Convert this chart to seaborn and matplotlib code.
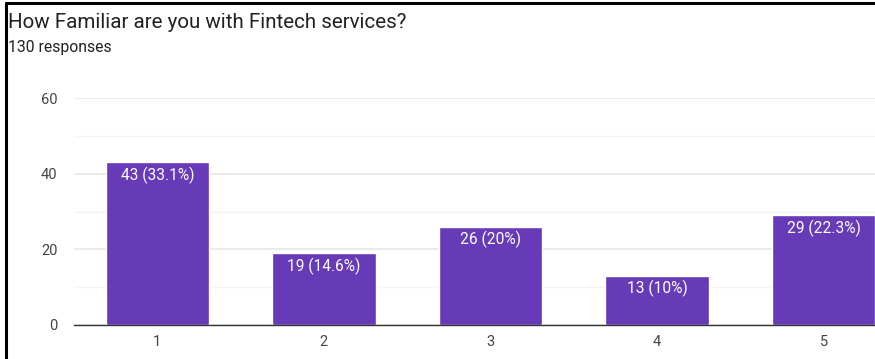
import matplotlib
matplotlib.use("Agg")
import matplotlib.pyplot as plt
from matplotlib.lines import Line2D
from matplotlib.ticker import MultipleLocator
import seaborn as sns
import pandas as pd

# Survey results
categories = ["1", "2", "3", "4", "5"]
counts = [43, 19, 26, 13, 29]
labels = ["43 (33.1%)", "19 (14.6%)", "26 (20%)", "13 (10%)", "29 (22.3%)"]
yticks = [0, 20, 40, 60]

title = "How Familiar are you with Fintech services?"
subtitle = "130 responses"

sns.set_theme(style="white")
plt.rcParams["font.family"] = ["Roboto", "DejaVu Sans"]

W, H = 875, 359
fig = plt.figure(figsize=(W / 100, H / 100), dpi=100)
fig.patch.set_facecolor("white")

# plot area in pixel units (the right end runs past the canvas edge)
left, right, top, bottom = 74, 907, 98, 325
ax = fig.add_axes([left / W, 1 - bottom / H, (right - left) / W, (bottom - top) / H])

df = pd.DataFrame({"rating": categories, "count": counts})
sns.barplot(data=df, x="rating", y="count", color="#673ab7", saturation=1,
            width=0.62, ax=ax, zorder=3)

for patch, txt in zip(ax.patches, labels):
    x = patch.get_x() + patch.get_width() / 2
    ax.annotate(txt, (x, patch.get_height()), xytext=(0, -3),
                textcoords="offset points", ha="center", va="top",
                color="white", fontsize=11.2, zorder=4)

ax.set_xlim(-0.5, len(categories) - 0.5)
ax.set_ylim(0, 60)
ax.set_yticks(yticks)
ax.yaxis.set_minor_locator(MultipleLocator(10))
ax.grid(True, axis="y", which="major", color="#e8e8e8", linewidth=1.2, zorder=0)
ax.grid(True, axis="y", which="minor", color="#f4f4f4", linewidth=1.0, zorder=0)
ax.set_axisbelow(True)

for s in ["top", "right", "left"]:
    ax.spines[s].set_visible(False)
ax.spines["bottom"].set_color("#333333")
ax.spines["bottom"].set_linewidth(1.0)
ax.spines["bottom"].set_zorder(5)

ax.set_xlabel("")
ax.set_ylabel("")
ax.tick_params(axis="y", which="both", length=0, pad=12, labelsize=10.5, labelcolor="#444444")
ax.tick_params(axis="x", length=0, pad=7, labelsize=10.5, labelcolor="#444444")

fig.text(8 / W, 1 - 28 / H, title, fontsize=14.8, color="#202124", ha="left", va="baseline")
fig.text(8 / W, 1 - 52 / H, subtitle, fontsize=11.3, color="#202124", ha="left", va="baseline")

# frame edges along the top and left
fig.add_artist(Line2D([5.5 / W, 1], [1 - 3 / H, 1 - 3 / H], color="black", linewidth=2.2,
                      transform=fig.transFigure))
fig.add_artist(Line2D([5.5 / W, 5.5 / W], [0, 1 - 3 / H], color="black", linewidth=2.2,
                      transform=fig.transFigure))

fig.savefig("out.png", dpi=100, facecolor="white")
